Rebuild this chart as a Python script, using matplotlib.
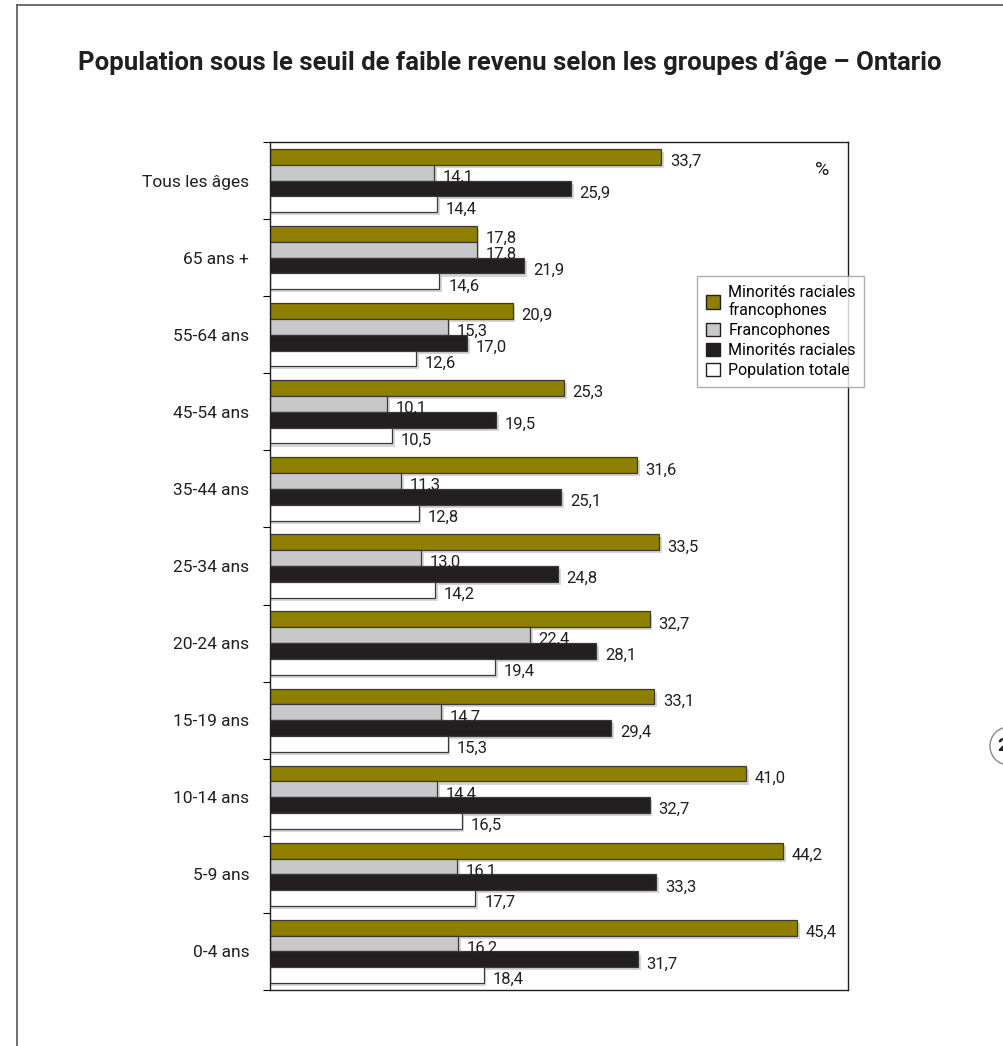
import numpy as np
import matplotlib
matplotlib.use("Agg")
import matplotlib.pyplot as plt
from matplotlib.patches import Patch, Circle
from matplotlib.lines import Line2D

plt.rcParams["font.family"] = ["Roboto", "DejaVu Sans"]

groupes = ["Tous les âges", "65 ans +", "55-64 ans", "45-54 ans", "35-44 ans",
           "25-34 ans", "20-24 ans", "15-19 ans", "10-14 ans", "5-9 ans", "0-4 ans"]

series = ["Minorités raciales\nfrancophones", "Francophones",
          "Minorités raciales", "Population totale"]

min_rac_franco = [33.7, 17.8, 20.9, 25.3, 31.6, 33.5, 32.7, 33.1, 41.0, 44.2, 45.4]
francophones = [14.1, 17.8, 15.3, 10.1, 11.3, 13.0, 22.4, 14.7, 14.4, 16.1, 16.2]
min_raciales = [25.9, 21.9, 17.0, 19.5, 25.1, 24.8, 28.1, 29.4, 32.7, 33.3, 31.7]
pop_totale = [14.4, 14.6, 12.6, 10.5, 12.8, 14.2, 19.4, 15.3, 16.5, 17.7, 18.4]

couleurs = ["#8e7f00", "#c8c8ca", "#231f20", "#ffffff"]


def fmt(v):
    return f"{v:.1f}".replace(".", ",")


fig = plt.figure(figsize=(10.04, 10.46), dpi=100)
ax = fig.add_axes([270 / 1004, 1 - 990 / 1046, 578 / 1004, 848 / 1046])

h = 0.205
y = np.arange(len(groupes))
valeurs = [min_rac_franco, francophones, min_raciales, pop_totale]

for i, (vals, c) in enumerate(zip(valeurs, couleurs)):
    pos = y - 1.5 * h + i * h
    # ombre portée
    ax.barh(pos + 0.04, np.array(vals) + 0.25, height=h, color="#b5b5b5",
            alpha=0.55, linewidth=0, zorder=1)
    ax.barh(pos, vals, height=h, color=c, edgecolor="#3a3a3a",
            linewidth=0.9, zorder=2)
    for p, v in zip(pos, vals):
        ax.text(v + 0.75, p + 0.06, fmt(v), va="center", ha="left",
                fontsize=12, color="#231f20", zorder=3)

ax.set_xlim(0, 49.8)
ax.set_ylim(len(groupes) - 0.5, -0.5)
ax.set_xticks([])
ax.set_yticks(y)
ax.set_yticklabels(groupes, fontsize=12.5, color="#231f20")
ax.tick_params(axis="y", which="major", length=0, pad=15)
ax.set_yticks(np.arange(len(groupes) + 1) - 0.5, minor=True)
ax.tick_params(axis="y", which="minor", length=5, width=0.8)
for s in ax.spines.values():
    s.set_color("#231f20")
    s.set_linewidth(1.0)

ax.text(822 / 1004, 1 - 170 / 1046, "%", transform=fig.transFigure,
        fontsize=14, ha="center", va="center", color="#231f20")

fig.text(0.508, 1 - 63 / 1046,
         "Population sous le seuil de faible revenu selon les groupes d’âge – Ontario",
         ha="center", va="center", fontsize=18.5, fontweight="bold", color="#231f20")

handles = [Patch(facecolor=c, edgecolor="#231f20", linewidth=1.0) for c in couleurs]
leg = fig.legend(handles, series, loc="upper left",
                 bbox_to_anchor=(697 / 1004, 1 - 276 / 1046),
                 borderaxespad=0, fontsize=11.5, frameon=True, fancybox=False,
                 handlelength=0.9, handleheight=0.9, handletextpad=0.5,
                 labelspacing=0.3, borderpad=0.55, edgecolor="#9a9a9a")
leg.get_frame().set_linewidth(1.0)

# cadre de page
fig.add_artist(Line2D([17 / 1004, 17 / 1004], [0, 1 - 5 / 1046],
                      transform=fig.transFigure, color="#555555", linewidth=1.2))
fig.add_artist(Line2D([17 / 1004, 1], [1 - 5 / 1046, 1 - 5 / 1046],
                      transform=fig.transFigure, color="#555555", linewidth=1.2))
fig.add_artist(Circle((1008 / 1004, 1 - 746 / 1046), 18 / 1004,
                      transform=fig.transFigure, fill=False,
                      edgecolor="#888888", linewidth=1.0))
fig.text(1003 / 1004, 1 - 746 / 1046, "2", fontsize=14, fontweight="bold",
         ha="center", va="center", color="#231f20")

fig.savefig("out.png", dpi=100, facecolor="white")
